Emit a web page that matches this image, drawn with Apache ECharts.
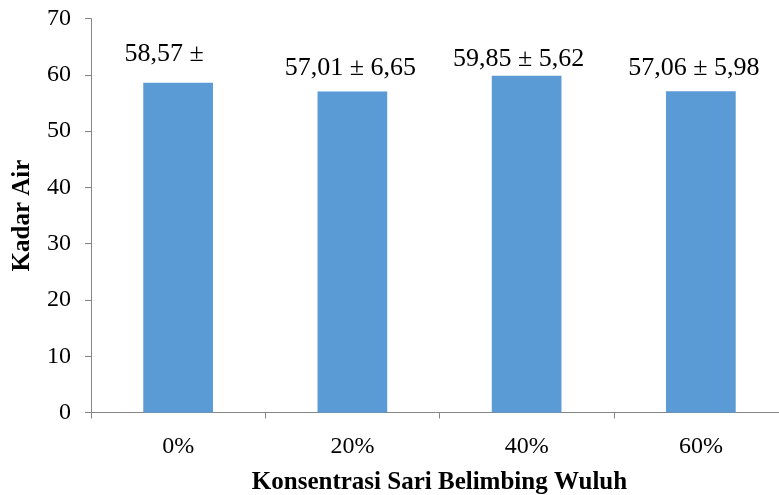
<!DOCTYPE html>
<html>
<head>
<meta charset="utf-8">
<script src="https://cdn.jsdelivr.net/npm/echarts@6/dist/echarts.min.js"></script>
<style>html,body{margin:0;padding:0;background:#fff;}#c{width:779px;height:495px;}</style>
</head>
<body>
<div id="c"></div>
<script>
const categories = ['0%', '20%', '40%', '60%'];
const values = [58.57, 57.01, 59.85, 57.06];
const labels = ['58,57 \u00b1', '57,01 \u00b1 6,65', '59,85 \u00b1 5,62', '57,06 \u00b1 5,98'];
const yTicks = [0, 10, 20, 30, 40, 50, 60, 70];

const labelOffsets = [[-14, -6], [-2, 0], [-8, 7], [-7, 0]];
const serif = '"Liberation Serif", "Times New Roman", serif';

const chart = echarts.init(document.getElementById('c'), null, {renderer: 'canvas'});
chart.setOption({
  animation: false,
  backgroundColor: '#ffffff',
  grid: {left: 91, width: 697, top: 18.5, bottom: 82.5, containLabel: false, outerBoundsMode: 'none'},
  xAxis: {
    type: 'category',
    data: categories,
    name: 'Konsentrasi Sari Belimbing Wuluh',
    nameLocation: 'middle',
    nameGap: 58,
    nameTextStyle: {fontFamily: serif, fontWeight: 'bold', fontSize: 25, color: '#000'},
    axisLine: {lineStyle: {color: '#868686', width: 1}},
    axisTick: {show: true, inside: false, length: 6, lineStyle: {color: '#868686'}},
    axisLabel: {fontFamily: serif, fontSize: 24, color: '#000', margin: 22},
    splitLine: {show: false}
  },
  yAxis: {
    type: 'value',
    min: yTicks[0],
    max: yTicks[yTicks.length - 1],
    interval: 10,
    name: 'Kadar Air',
    nameLocation: 'middle',
    nameGap: 56,
    nameRotate: 90,
    nameTextStyle: {fontFamily: serif, fontWeight: 'bold', fontSize: 25, color: '#000'},
    axisLine: {show: true, lineStyle: {color: '#868686', width: 1}},
    axisTick: {show: true, inside: false, length: 6, lineStyle: {color: '#868686'}},
    axisLabel: {fontFamily: serif, fontSize: 24, color: '#000', margin: 20},
    splitLine: {show: false}
  },
  series: [{
    type: 'bar',
    barWidth: '40%',
    itemStyle: {color: '#5B9BD5'},
    data: values.map((v, i) => ({
      value: v,
      label: {
        show: true,
        position: 'top',
        distance: 10,
        offset: labelOffsets[i],
        formatter: labels[i],
        fontFamily: serif,
        fontSize: 26,
        color: '#000'
      }
    }))
  }]
});
</script>
</body>
</html>
